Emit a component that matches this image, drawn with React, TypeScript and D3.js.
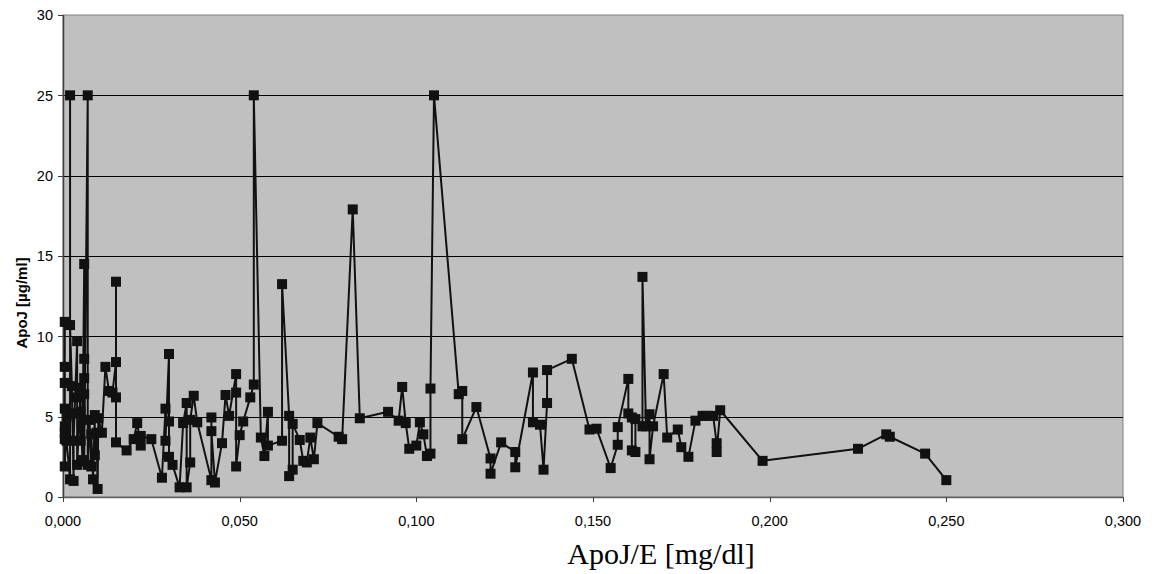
import React from "react";
import * as d3 from "d3";

const xValues: number[] = [
  0.0005, 0.0005, 0.0005, 0.0005, 0.0005, 0.0005, 0.0005, 0.0005, 0.001, 0.001,
  0.002, 0.002, 0.002, 0.0025, 0.003, 0.003, 0.003, 0.004, 0.004, 0.004,
  0.005, 0.005, 0.005, 0.0055, 0.006, 0.006, 0.006, 0.006, 0.006, 0.007,
  0.007, 0.0075, 0.008, 0.008, 0.0085, 0.009, 0.009, 0.0095, 0.0098, 0.010,
  0.011, 0.012, 0.013, 0.014, 0.015, 0.015, 0.015, 0.015, 0.018, 0.020,
  0.021, 0.022, 0.022, 0.025, 0.028, 0.029, 0.029, 0.030, 0.030, 0.030,
  0.031, 0.033, 0.034, 0.035, 0.035, 0.036, 0.036, 0.037, 0.038, 0.042,
  0.042, 0.042, 0.043, 0.045, 0.046, 0.047, 0.049, 0.049, 0.049, 0.050,
  0.051, 0.053, 0.054, 0.054, 0.056, 0.057, 0.058, 0.058, 0.062, 0.062,
  0.064, 0.064, 0.065, 0.065, 0.067, 0.068, 0.069, 0.070, 0.071, 0.072,
  0.078, 0.079, 0.082, 0.084, 0.092, 0.095, 0.096, 0.097, 0.098, 0.100,
  0.101, 0.102, 0.103, 0.104, 0.104, 0.105, 0.112, 0.113, 0.113, 0.117,
  0.121, 0.121, 0.124, 0.128, 0.128, 0.133, 0.133, 0.135, 0.136, 0.137,
  0.137, 0.144, 0.149, 0.151, 0.155, 0.157, 0.157, 0.160, 0.160, 0.161,
  0.161, 0.162, 0.162, 0.164, 0.164, 0.165, 0.166, 0.166, 0.167, 0.170,
  0.171, 0.174, 0.175, 0.177, 0.179, 0.181, 0.182, 0.184, 0.185, 0.185,
  0.186, 0.198, 0.225, 0.233, 0.234, 0.244, 0.250,
];

const yValues: number[] = [
  10.9, 8.1, 7.1, 5.5, 4.4, 3.6, 4.0, 1.9, 5.0, 3.5,
  1.1, 25, 10.7, 6.9, 1.0, 5.2, 3.5, 9.7, 6.2, 2.0,
  6.8, 3.5, 5.3, 2.3, 14.5, 8.6, 7.4, 6.4, 2.2, 25,
  2.0, 4.8, 1.9, 3.9, 1.1, 5.1, 2.6, 4.0, 0.5, 4.9,
  4.0, 8.1, 6.6, 6.5, 8.4, 13.4, 6.2, 3.4, 2.9, 3.6,
  4.6, 3.2, 3.8, 3.6, 1.2, 5.5, 3.5, 8.9, 4.7, 2.5,
  2.0, 0.6, 4.6, 5.85, 0.6, 2.15, 4.8, 6.3, 4.65, 1.05,
  4.95, 4.1, 0.9, 3.35, 6.35, 5.05, 7.65, 6.5, 1.9, 3.85,
  4.7, 6.2, 7.0, 25, 3.7, 2.55, 5.3, 3.2, 3.5, 13.25,
  5.05, 1.3, 1.7, 4.55, 3.55, 2.25, 2.15, 3.7, 2.35, 4.6,
  3.75, 3.6, 17.9, 4.9, 5.3, 4.75, 6.85, 4.6, 3.0, 3.2,
  4.65, 3.9, 2.55, 2.7, 6.75, 25, 6.4, 6.6, 3.6, 5.6,
  2.4, 1.45, 3.4, 2.8, 1.85, 7.75, 4.65, 4.5, 1.7, 5.85,
  7.9, 8.6, 4.2, 4.25, 1.8, 3.25, 4.35, 7.35, 5.2, 4.95,
  2.9, 2.8, 4.85, 4.4, 13.7, 4.4, 5.15, 2.35, 4.4, 7.65,
  3.7, 4.2, 3.1, 2.5, 4.75, 5.05, 5.05, 5.05, 3.35, 2.8,
  5.4, 2.25, 3.0, 3.9, 3.75, 2.7, 1.05,
];

const xTicks: number[] = [0, 0.05, 0.1, 0.15, 0.2, 0.25, 0.3];
const yTicks: number[] = [0, 5, 10, 15, 20, 25, 30];
const xTitle = "ApoJ/E [mg/dl]";
const yTitle = "ApoJ [µg/ml]";

export default function App() {
  const W = 1154, H = 574;
  const left = 63, right = 1123, top = 15, bottom = 497;
  const x = d3.scaleLinear().domain([0, 0.3]).range([left, right]);
  const y = d3.scaleLinear().domain([0, 30]).range([bottom, top]);
  const pts = xValues.map((v, i) => [x(v), y(yValues[i])] as [number, number]);
  const line = d3.line()(pts) || "";
  const fmtX = (v: number) => v.toFixed(3).replace(".", ",");
  const ms = 10;
  const sans = "Liberation Sans, Arial, sans-serif";
  return (
    <svg width={W} height={H} style={{ position: "absolute", left: 0, top: 0 }}>
      <rect x={left} y={top} width={right - left} height={bottom - top} fill="#C0C0C0" stroke="#808080" strokeWidth={1} />
      {yTicks.filter(t => t > 0 && t < 30).map(t => (
        <line key={"g" + t} x1={left} x2={right} y1={Math.round(y(t)) + 0.5} y2={Math.round(y(t)) + 0.5} stroke="#000" strokeWidth={1} />
      ))}
      <line x1={left + 0.5} x2={left + 0.5} y1={top} y2={bottom} stroke="#404040" strokeWidth={1.5} />
      <line x1={left} x2={right} y1={bottom + 0.5} y2={bottom + 0.5} stroke="#606060" strokeWidth={1.5} />
      {yTicks.map(t => (
        <g key={"yt" + t}>
          <line x1={left - 5} x2={left} y1={Math.round(y(t)) + 0.5} y2={Math.round(y(t)) + 0.5} stroke="#404040" strokeWidth={1} />
          <text x={53} y={y(t)} dy="0.36em" textAnchor="end" fontFamily={sans} fontSize={14.5}>{t}</text>
        </g>
      ))}
      {xTicks.map(t => (
        <g key={"xt" + t}>
          <line x1={Math.round(x(t)) + 0.5} x2={Math.round(x(t)) + 0.5} y1={bottom} y2={bottom + 5} stroke="#404040" strokeWidth={1} />
          <text x={x(t)} y={526} textAnchor="middle" fontFamily={sans} fontSize={14.5}>{fmtX(t)}</text>
        </g>
      ))}
      <path d={line} fill="none" stroke="#111" strokeWidth={2} strokeLinejoin="round" />
      {pts.map((p, i) => (
        <rect key={"m" + i} x={p[0] - ms / 2} y={p[1] - ms / 2} width={ms} height={ms} fill="#111" />
      ))}
      <text x={661} y={564} textAnchor="middle" fontFamily="Liberation Serif, Times New Roman, serif" fontSize={30}>{xTitle}</text>
      <text transform={`translate(27,303) rotate(-90)`} textAnchor="middle" fontFamily={sans} fontSize={15} fontWeight="bold">{yTitle}</text>
    </svg>
  );
}
